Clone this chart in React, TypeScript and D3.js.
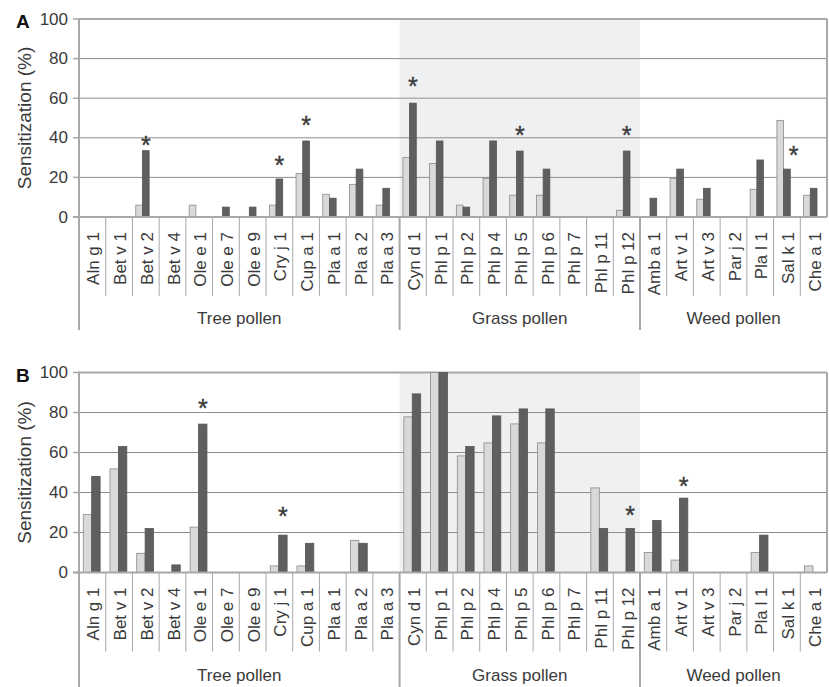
import React from 'react';
import * as d3 from 'd3';

// allergen components, grouped by pollen source
const treeAllergens = ['Aln g 1', 'Bet v 1', 'Bet v 2', 'Bet v 4', 'Ole e 1', 'Ole e 7', 'Ole e 9', 'Cry j 1', 'Cup a 1', 'Pla a 1', 'Pla a 2', 'Pla a 3'];
const grassAllergens = ['Cyn d 1', 'Phl p 1', 'Phl p 2', 'Phl p 4', 'Phl p 5', 'Phl p 6', 'Phl p 7', 'Phl p 11', 'Phl p 12'];
const weedAllergens = ['Amb a 1', 'Art v 1', 'Art v 3', 'Par j 2', 'Pla l 1', 'Sal k 1', 'Che a 1'];
const groupNames = ['Tree pollen', 'Grass pollen', 'Weed pollen'];
const allergens = [...treeAllergens, ...grassAllergens, ...weedAllergens];

const yTicks = [0, 20, 40, 60, 80, 100];

// panel A (%)
const lightA = [0, 0, 6, 0, 6, 0, 0, 6, 22, 11.5, 16.5, 6, 30, 27, 6, 19.5, 11, 11, 0, 0, 3.4, 0, 19.5, 9, 0, 14, 48.8, 11];
const darkA = [0, 0, 33.5, 0, 0, 5, 5, 19.2, 38.4, 9.5, 24.2, 14.5, 57.5, 38.4, 5, 38.4, 33.3, 24.2, 0, 0, 33.3, 9.5, 24.2, 14.5, 0, 28.8, 24.2, 14.5];
// significance marks: allergen, level (%), bar slot it sits over
const starsA = [
  { name: 'Bet v 2', at: 39, slot: 1 },
  { name: 'Cry j 1', at: 29, slot: 1 },
  { name: 'Cup a 1', at: 49, slot: 1 },
  { name: 'Cyn d 1', at: 68.5, slot: 1 },
  { name: 'Phl p 5', at: 44, slot: 1 },
  { name: 'Phl p 12', at: 44, slot: 1 },
  { name: 'Sal k 1', at: 34, slot: 2 },
];

// panel B (%)
const lightB = [29, 51.8, 9.6, 0, 22.7, 0, 0, 3.3, 3.3, 0, 16.1, 0, 77.8, 100, 58.3, 64.8, 74.3, 64.8, 0, 42.3, 0, 10, 6.2, 0, 0, 10, 0, 3.3];
const darkB = [48, 63, 22, 3.8, 74.2, 0, 0, 18.7, 14.6, 0, 14.6, 0, 89.3, 100, 63, 78.3, 81.8, 81.8, 0, 22, 22, 26, 37.2, 0, 0, 18.7, 0, 0];
const starsB = [
  { name: 'Ole e 1', at: 85, slot: 1 },
  { name: 'Cry j 1', at: 31, slot: 1 },
  { name: 'Phl p 12', at: 31.5, slot: 1 },
  { name: 'Art v 1', at: 45.7, slot: 1 },
];

const font = "'Liberation Sans', Arial, Helvetica, sans-serif";
const axisGray = '#a8a8a8';
const textColor = '#3a3a3a';

const x = d3.scaleBand().domain(allergens).range([79, 827]).padding(0);
const groups = [treeAllergens, grassAllergens, weedAllergens];

function Panel(props) {
  const { letter, light, dark, stars, top, bottom, labelBottom, barStart, barWidth } = props;
  const y = d3.scaleLinear().domain([0, 100]).range([bottom, top]);
  const bw = x.bandwidth();
  const grassX0 = x(grassAllergens[0]);
  const grassX1 = x(grassAllergens[grassAllergens.length - 1]) + bw;
  const [r0, r1] = x.range();

  return (
    <g fontFamily={font}>
      <rect x={grassX0} y={top} width={grassX1 - grassX0} height={bottom - top} fill="#eff0f2" />
      {yTicks.filter(t => t > 0 && t < 100).map(t => (
        <line key={t} x1={r0} x2={r1} y1={y(t)} y2={y(t)} stroke="#8e8e8e" strokeWidth={1} />
      ))}
      <line x1={r0} x2={r1} y1={y(100)} y2={y(100)} stroke={axisGray} strokeWidth={2} />
      <line x1={r1} x2={r1} y1={y(100)} y2={y(0)} stroke={axisGray} strokeWidth={2} />

      {allergens.map((a, i) => (
        <g key={a}>
          {light[i] > 0 && (
            <rect x={x(a) + barStart * bw} y={y(light[i])} width={barWidth * bw} height={y(0) - y(light[i])}
              fill="#d9d9d9" stroke="#8a8a8a" strokeWidth={0.8} />
          )}
          {dark[i] > 0 && (
            <rect x={x(a) + (barStart + barWidth) * bw} y={y(dark[i])} width={barWidth * bw} height={y(0) - y(dark[i])}
              fill="#5f5f5f" stroke="#555" strokeWidth={0.8} />
          )}
        </g>
      ))}

      {stars.map(s => (
        <text key={s.name} x={x(s.name) + (barStart + barWidth * (s.slot + 0.5)) * bw} y={y(s.at) + 14}
          textAnchor="middle" fontSize={25} fill="#3c3c3c" stroke="#3c3c3c" strokeWidth={0.4}>*</text>
      ))}

      <line x1={73} x2={r1} y1={y(0)} y2={y(0)} stroke={axisGray} strokeWidth={2} />
      <line x1={r0} x2={r0} y1={y(100) - 1} y2={labelBottom} stroke={axisGray} strokeWidth={2} />
      {yTicks.map(t => (
        <g key={t}>
          <line x1={73} x2={r0} y1={y(t)} y2={y(t)} stroke={axisGray} strokeWidth={1.5} />
          <text x={68} y={y(t)} textAnchor="end" dominantBaseline="central" fontSize={17} fill={textColor}>{t}</text>
        </g>
      ))}

      {/* category separators and labels */}
      {allergens.slice(1).map(a => (
        <line key={a} x1={x(a)} x2={x(a)} y1={y(0)} y2={y(0) + 79} stroke={axisGray} strokeWidth={1} />
      ))}
      {allergens.map(a => (
        <text key={a} transform={`translate(${x(a) + bw / 2 + 1.5},${y(0) + 15}) rotate(-90)`}
          textAnchor="end" dominantBaseline="central" fontSize={17} fill={textColor}>{a}</text>
      ))}
      {groups.map((g, i) => {
        const gx0 = x(g[0]);
        const gx1 = x(g[g.length - 1]) + bw;
        return (
          <g key={groupNames[i]}>
            {i > 0 && <line x1={gx0} x2={gx0} y1={y(0)} y2={labelBottom} stroke={axisGray} strokeWidth={2} />}
            <text x={(gx0 + gx1) / 2} y={labelBottom - 6} textAnchor="middle" fontSize={17} fill={textColor}>{groupNames[i]}</text>
          </g>
        );
      })}

      <text x={16} y={y(100) + 9} fontSize={19} fontWeight="bold" fill="#111">{letter}</text>
      <text transform={`translate(24,${(top + bottom) / 2}) rotate(-90)`} textAnchor="middle" dominantBaseline="central"
        fontSize={19} fill={textColor}>Sensitization (%)</text>
    </g>
  );
}

export default function App() {
  return (
    <svg width={829} height={687} style={{ position: 'absolute', left: 0, top: 0, background: '#fff' }}>
      <rect width={829} height={687} fill="#fff" />
      <Panel letter="A" light={lightA} dark={darkA} stars={starsA} top={19} bottom={217} labelBottom={330}
        barStart={0.125} barWidth={0.25} />
      <Panel letter="B" light={lightB} dark={darkB} stars={starsB} top={372.5} bottom={572.5} labelBottom={687}
        barStart={0.16} barWidth={0.315} />
    </svg>
  );
}
